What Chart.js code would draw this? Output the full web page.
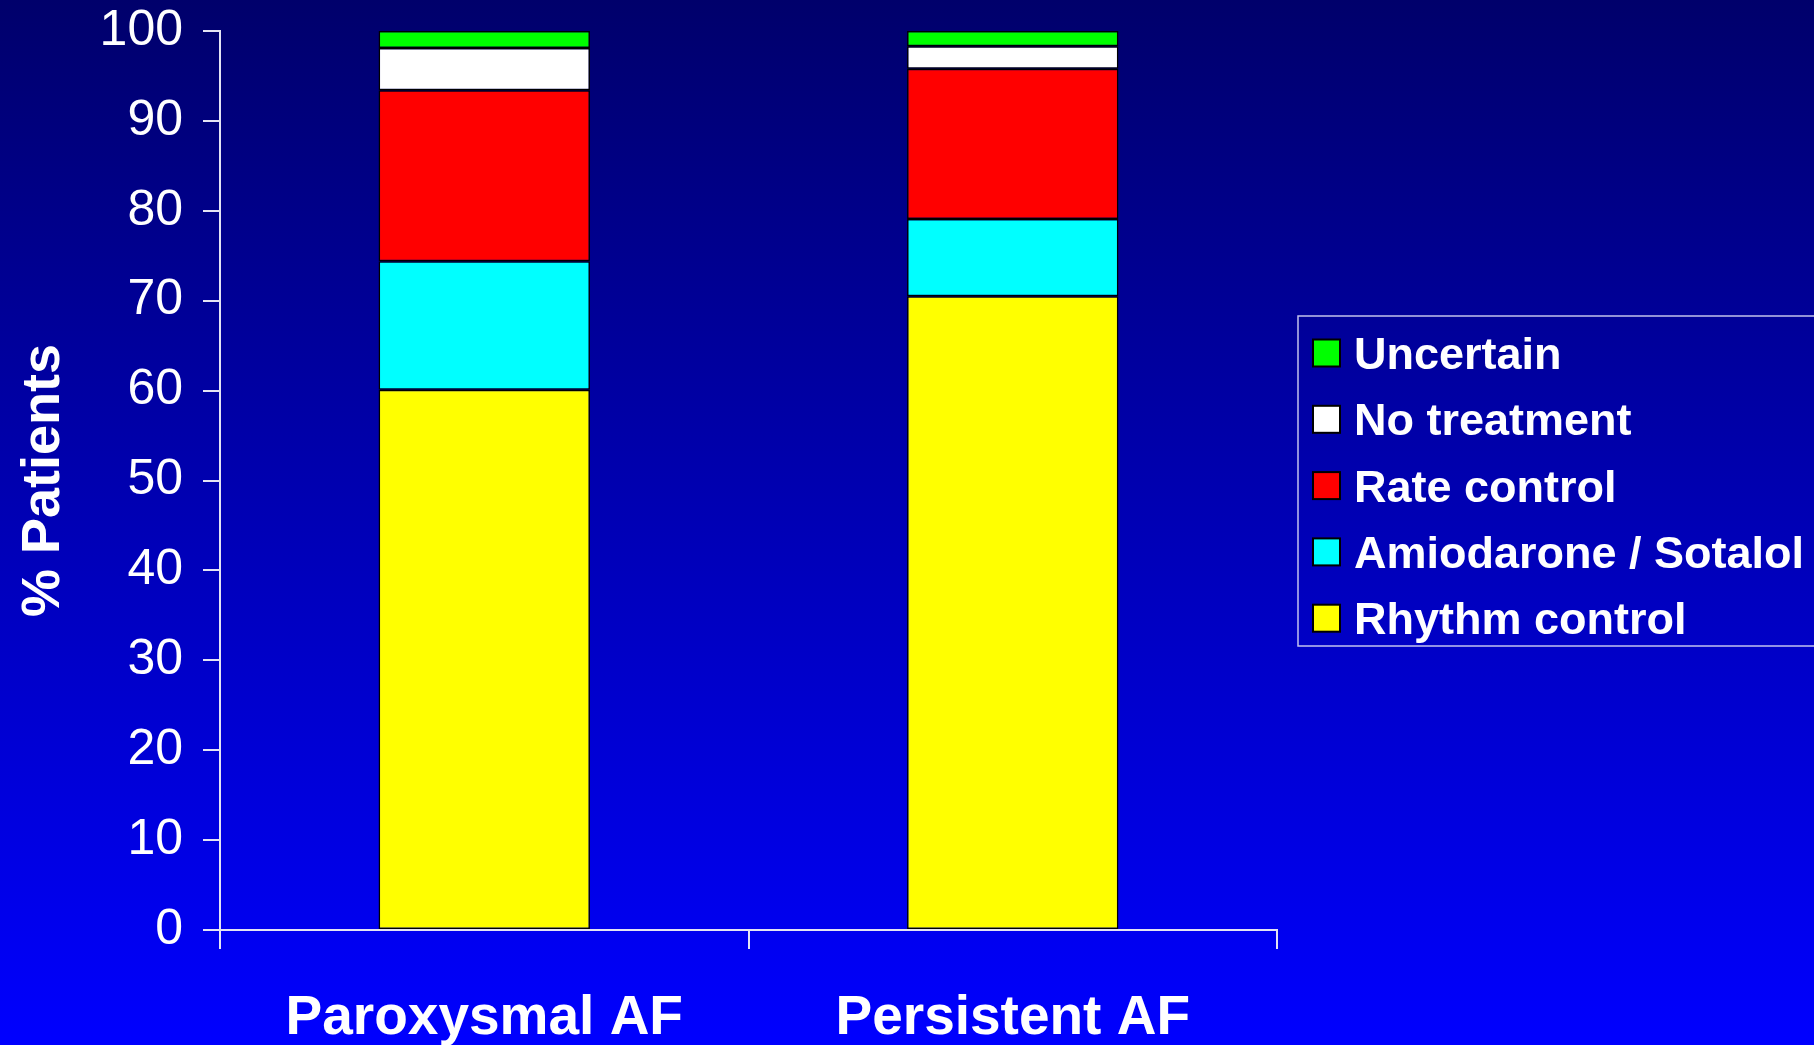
<!DOCTYPE html>
<html>
<head>
<meta charset="utf-8">
<title>AF treatment strategy</title>
<script src="https://cdn.jsdelivr.net/npm/chart.js@4/dist/chart.umd.min.js"></script>
<style>
  html, body { margin: 0; padding: 0; background: #0000c0; overflow: hidden; }
  #wrap { width: 1814px; height: 1045px; position: relative; }
  canvas { display: block; }
</style>
</head>
<body>
<div id="wrap"><canvas id="chart" width="1814" height="1045"></canvas></div>
<script>
// Percent of patients by treatment strategy, per AF type
const categories = ['Paroxysmal AF', 'Persistent AF'];
const rhythmControl = [60.1, 70.5];
const amiodaroneSotalol = [14.3, 8.6];
const rateControl = [19.0, 16.7];
const noTreatment = [4.7, 2.5];
const uncertain = [1.9, 1.7];

const seriesNames = ['Rhythm control', 'Amiodarone / Sotalol', 'Rate control', 'No treatment', 'Uncertain'];
const seriesColors = ['#ffff00', '#00ffff', '#ff0000', '#ffffff', '#00ff00'];
const yTicks = [0, 10, 20, 30, 40, 50, 60, 70, 80, 90, 100];

const FONT = "'Liberation Sans', Arial, Helvetica, sans-serif";
const AXIS_COLOR = '#e4e4f4';

// Slide-style vertical gradient behind everything
const backdrop = {
  id: 'backdrop',
  beforeDraw(chart) {
    const { ctx, width, height } = chart;
    const g = ctx.createLinearGradient(0, 0, 0, height);
    g.addColorStop(0, '#00006b');
    g.addColorStop(1, '#0000ff');
    ctx.save();
    ctx.fillStyle = g;
    ctx.fillRect(0, 0, width, height);
    ctx.restore();
  }
};

// Boxed legend on the right, listed top series first
const boxedLegend = {
  id: 'boxedLegend',
  afterDraw(chart) {
    const { ctx } = chart;
    const ds = chart.data.datasets.slice().reverse();
    const left = 1298, top = 316, bottom = 646;
    ctx.save();
    ctx.strokeStyle = 'rgba(215,215,245,0.9)';
    ctx.lineWidth = 1.5;
    ctx.strokeRect(left, top, 600, bottom - top);
    const x0 = 1313, size = 27, gap = 66.3;
    let cy = 353;
    ctx.font = 'bold 45px ' + FONT;
    ctx.textBaseline = 'alphabetic';
    ctx.textAlign = 'left';
    ds.forEach(d => {
      ctx.fillStyle = d.backgroundColor;
      ctx.fillRect(x0, cy - size / 2, size, size);
      ctx.strokeStyle = '#000000';
      ctx.lineWidth = 2;
      ctx.strokeRect(x0, cy - size / 2, size, size);
      ctx.fillStyle = '#ffffff';
      ctx.fillText(d.label, 1354, cy + 16);
      cy += gap;
    });
    ctx.restore();
  }
};

const seriesValues = [rhythmControl, amiodaroneSotalol, rateControl, noTreatment, uncertain];

new Chart(document.getElementById('chart'), {
  type: 'bar',
  data: {
    labels: categories,
    datasets: seriesValues.map((vals, i) => ({
      label: seriesNames[i],
      data: vals,
      backgroundColor: seriesColors[i],
      borderColor: '#000000',
      borderWidth: 1.5,
      borderSkipped: false,
      categoryPercentage: 1,
      barPercentage: 0.4
    }))
  },
  options: {
    responsive: false,
    animation: false,
    layout: { padding: { left: 0, right: 537, top: 31, bottom: 0 } },
    plugins: {
      legend: { display: false },
      tooltip: { enabled: false }
    },
    scales: {
      x: {
        stacked: true,
        offset: true,
        grid: {
          offset: true,
          drawOnChartArea: false,
          drawTicks: true,
          tickLength: 19,
          color: AXIS_COLOR,
          lineWidth: 2
        },
        border: { display: true, color: AXIS_COLOR, width: 2 },
        ticks: {
          color: '#ffffff',
          font: { family: FONT, size: 55, weight: 'bold' },
          padding: 37,
          maxRotation: 0
        },
        afterFit(scale) { scale.height = 115; }
      },
      y: {
        stacked: true,
        min: 0,
        max: 100,
        afterBuildTicks(scale) { scale.ticks = yTicks.map(v => ({ value: v })); },
        grid: {
          drawOnChartArea: false,
          drawTicks: true,
          tickLength: 17,
          color: AXIS_COLOR,
          lineWidth: 2
        },
        border: { display: true, color: AXIS_COLOR, width: 2 },
        ticks: {
          color: '#ffffff',
          font: { family: FONT, size: 50 },
          padding: 20
        },
        title: {
          display: true,
          text: '% Patients',
          color: '#ffffff',
          font: { family: FONT, size: 54, weight: 'bold' },
          padding: { top: 12, bottom: 0 }
        },
        afterFit(scale) {
          scale.width = 220;
          scale.paddingTop = 0;
          scale.paddingBottom = 0;
        }
      }
    }
  },
  plugins: [backdrop, boxedLegend]
});
</script>
</body>
</html>
